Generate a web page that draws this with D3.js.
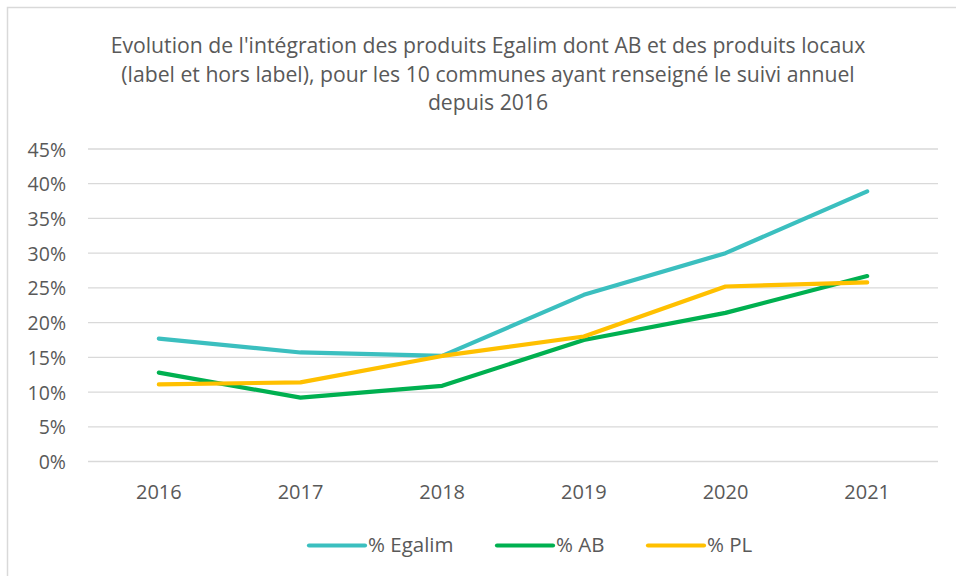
<!DOCTYPE html>
<html><head><meta charset="utf-8">
<script src="https://cdn.jsdelivr.net/npm/d3@7"></script>
<style>body{margin:0;background:#fff}svg{display:block}text{font-family:"Open Sans",Lato,sans-serif;fill:#595959}</style>
</head><body><svg id="c" width="956" height="576"></svg>
<script>
const years = ["2016","2017","2018","2019","2020","2021"];
const egalim = [17.7, 15.7, 15.2, 24.0, 30.0, 38.9];
const ab = [12.8, 9.2, 10.9, 17.5, 21.4, 26.7];
const pl = [11.1, 11.4, 15.2, 18.0, 25.2, 25.8];
const yTicks = [0,5,10,15,20,25,30,35,40,45];
const seriesNames = ["% Egalim","% AB","% PL"];
const colors = ["#3BBFBF","#00B050","#FFC000"];
const titleLines = ["Evolution de l'intégration des produits Egalim dont AB et des produits locaux","(label et hors label), pour les 10 communes ayant renseigné le suivi annuel","depuis 2016"];

const svg = d3.select("#c");
// chart border
svg.append("path").attr("d","M7.5,576 V7.5 H956").attr("fill","none").attr("stroke","#d9d9d9").attr("stroke-width",1.5);

const x = d3.scaleBand().domain(years).range([88,938]);
const y = d3.scaleLinear().domain([0,45]).range([461.5,149]);

// grid
svg.append("g").selectAll("line").data(yTicks).join("line")
  .attr("x1",88).attr("x2",938).attr("y1",d=>y(d)).attr("y2",d=>y(d))
  .attr("stroke","#d9d9d9").attr("stroke-width",1.3);

// y axis labels
const yAxis = d3.axisLeft(y).tickValues(yTicks).tickFormat(d=>d+"%").tickSize(0).tickPadding(0);
const ya = svg.append("g").attr("transform","translate(66,0)").call(yAxis);
ya.select(".domain").remove();
ya.selectAll("text").attr("font-size",19.5).style("font-family","'Open Sans',Lato,sans-serif").attr("fill","#595959").attr("dy","0.36em");

// x axis labels
const xAxis = d3.axisBottom(x).tickSize(0).tickPadding(0);
const xa = svg.append("g").attr("transform","translate(0,492)").call(xAxis);
xa.select(".domain").remove();
xa.selectAll("text").attr("font-size",20).style("font-family","'Open Sans',Lato,sans-serif").attr("fill","#595959").attr("dy","0.36em");

const line = d3.line().x((d,i)=>x(years[i])+x.bandwidth()/2).y(d=>y(d));
[egalim,ab,pl].forEach((s,k)=>{
  svg.append("path").datum(s).attr("d",line).attr("fill","none")
    .attr("stroke",colors[k]).attr("stroke-width",4.2).attr("stroke-linecap","round").attr("stroke-linejoin","round");
});

// title
svg.append("g").selectAll("text").data(titleLines).join("text")
  .attr("x",488).attr("y",(d,i)=>53+i*28.5).attr("text-anchor","middle").attr("font-size",21.2).text(d=>d);

// legend
const legX = [309,497,648];
const lg = svg.append("g").selectAll("g").data(seriesNames).join("g");
lg.append("line").attr("x1",(d,i)=>legX[i]).attr("x2",(d,i)=>legX[i]+56).attr("y1",545.5).attr("y2",545.5)
  .attr("stroke",(d,i)=>colors[i]).attr("stroke-width",4.2).attr("stroke-linecap","round");
lg.append("text").attr("x",(d,i)=>legX[i]+59).attr("y",545).attr("dy","0.35em").attr("font-size",20.5).text(d=>d);
</script></body></html>
